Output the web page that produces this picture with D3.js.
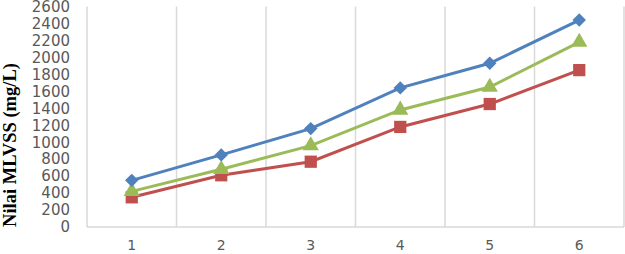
<!doctype html>
<html>
<head>
<meta charset="utf-8"/>
<script src="https://cdnjs.cloudflare.com/ajax/libs/d3/7.8.5/d3.min.js"></script>
<style>
  body { margin: 0; background: #fff; }
  svg { display: block; }
</style>
</head>
<body>
<svg width="625" height="254"></svg>
<script>
// chart values
var categories = [1, 2, 3, 4, 5, 6];
var blueSeries = [550, 850, 1160, 1640, 1930, 2440];
var greenSeries = [420, 680, 960, 1380, 1650, 2180];
var redSeries = [350, 610, 770, 1180, 1450, 1850];
var yTicks = [0, 200, 400, 600, 800, 1000, 1200, 1400, 1600, 1800, 2000, 2200, 2400, 2600];

var svg = d3.select("svg");
var plotLeft = 87, plotRight = 624, plotTop = 6.5, plotBottom = 227;

var xScale = d3.scaleBand().domain(categories).range([plotLeft, plotRight]);
var yScale = d3.scaleLinear().domain([0, 2600]).range([plotBottom, plotTop]);

// vertical grid lines at band edges
var edges = categories.map(function(c){ return xScale(c); }).concat([plotRight]);
svg.append("g").selectAll("line")
  .data(edges).enter().append("line")
  .attr("x1", function(d){ return d; }).attr("x2", function(d){ return d; })
  .attr("y1", plotTop).attr("y2", plotBottom)
  .style("stroke", "#d9d9d9").style("stroke-width", 1.5);

// bottom axis line
svg.append("line")
  .attr("x1", plotLeft).attr("x2", plotRight).attr("y1", plotBottom).attr("y2", plotBottom)
  .style("stroke", "#d9d9d9").style("stroke-width", 1.5);

// y axis labels
var yAxis = d3.axisLeft(yScale).tickValues(yTicks).tickSize(0).tickPadding(0).tickFormat(d3.format("d"));
var yG = svg.append("g").attr("transform", "translate(70,0)").call(yAxis);
yG.select(".domain").remove();
yG.selectAll("text")
  .style("font-family", "'DejaVu Sans', sans-serif")
  .style("font-size", "15px").attr("fill", "#595959");

// x axis labels
var xAxis = d3.axisBottom(xScale).tickSize(0).tickPadding(0);
var xG = svg.append("g").attr("transform", "translate(0,240)").call(xAxis);
xG.select(".domain").remove();
xG.selectAll("text")
  .style("font-family", "'DejaVu Sans', sans-serif")
  .style("font-size", "14px").attr("fill", "#595959");

// y title
svg.append("text")
  .attr("transform", "translate(16,145) rotate(-90)")
  .attr("text-anchor", "middle")
  .style("font-family", "'Liberation Serif', serif")
  .style("font-weight", "bold").style("font-size", "18.5px")
  .text("Nilai MLVSS (mg/L)");

var series = [
  { values: redSeries, color: "#C0504D", shape: d3.symbolSquare, size: 150, rot: 0 },
  { values: greenSeries, color: "#9BBB59", shape: d3.symbolTriangle, size: 115, rot: 0 },
  { values: blueSeries, color: "#4F81BD", shape: d3.symbolSquare, size: 90, rot: 45 }
];

var line = d3.line()
  .x(function(d, i){ return xScale(categories[i]) + xScale.bandwidth() / 2; })
  .y(function(d){ return yScale(d); });

series.forEach(function(s){
  svg.append("path").datum(s.values)
    .attr("d", line)
    .style("fill", "none").style("stroke", s.color).style("stroke-width", 3);
  svg.append("g").selectAll("path")
    .data(s.values).enter().append("path")
    .attr("d", d3.symbol().type(s.shape).size(s.size))
    .attr("transform", function(d, i){
      return "translate(" + (xScale(categories[i]) + xScale.bandwidth() / 2) + "," + yScale(d) + ") rotate(" + s.rot + ")";
    })
    .style("fill", s.color);
});
</script>
</body>
</html>
